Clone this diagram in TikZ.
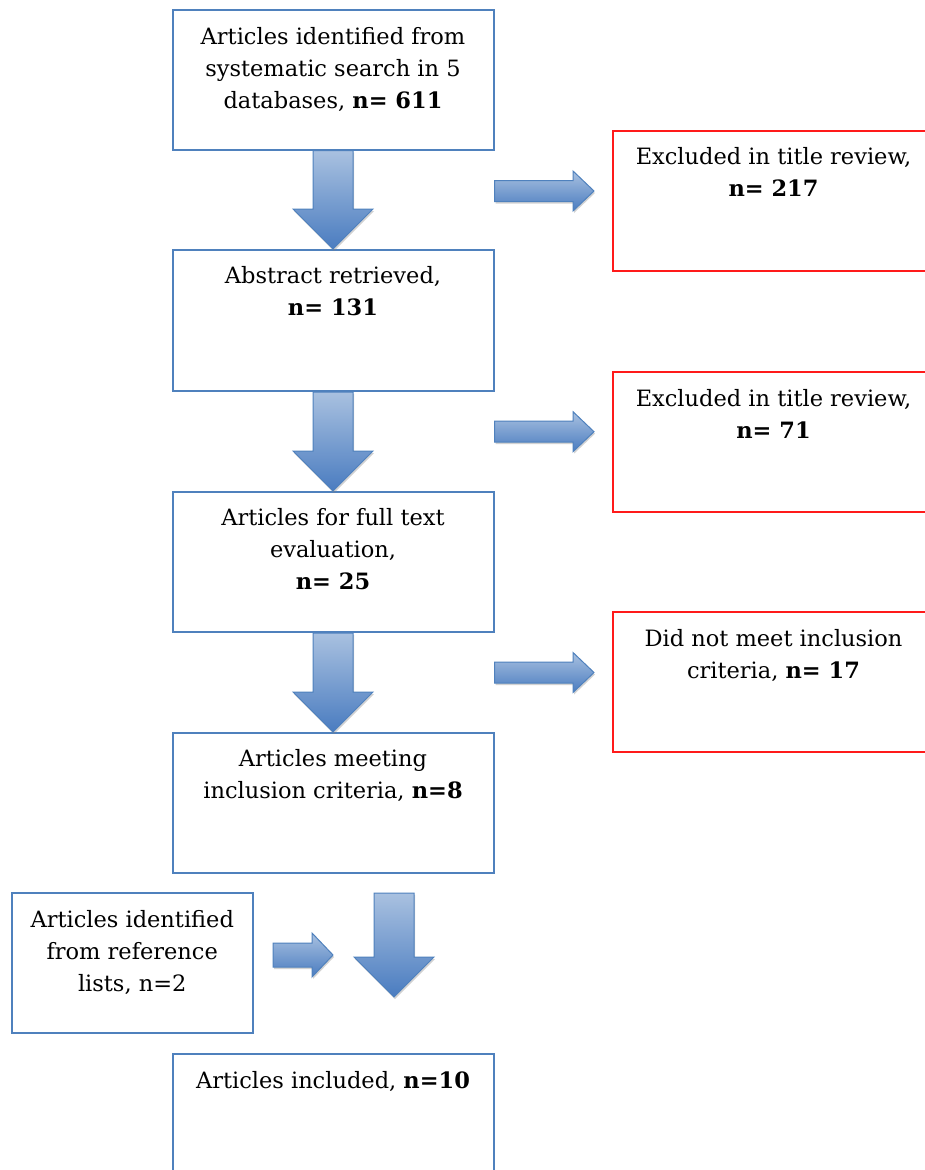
\documentclass[tikz,border=0pt]{standalone}
\usepackage{fontspec}
\setmainfont{DejaVu Serif}
\usetikzlibrary{calc,shadows}
\definecolor{boxblue}{HTML}{4F81BD}
\definecolor{arrlight}{HTML}{A9C1E0}
\definecolor{arrdark}{HTML}{4A7CC0}
\definecolor{exred}{HTML}{FF1A1A}
\newcommand{\dnarr}[2]{%
  \path[blockarrow] let \p1=(#1), \p2=(#2) in
    (\x1-20pt,\y1) -- (\x1+20pt,\y1) -- (\x1+20pt,\y2+40pt) -- (\x1+40pt,\y2+40pt)
    -- (\x1,\y2) -- (\x1-40pt,\y2+40pt) -- (\x1-20pt,\y2+40pt) -- cycle;}
\newcommand{\rtarr}[4]{%
  \path[blockarrow] let \p1=(#1), \p2=(#2) in
    (\x1,\y1+#3) -- (\x2-21pt,\y1+#3) -- (\x2-21pt,\y1+#4) -- (\x2,\y1)
    -- (\x2-21pt,\y1-#4) -- (\x2-21pt,\y1-#3) -- (\x1,\y1-#3) -- cycle;}
\tikzset{
  bluebox/.style={draw=boxblue, line width=2pt, fill=white, minimum width=321pt, inner sep=0pt},
  redbox/.style={draw=exred, line width=2pt, fill=white, minimum width=321pt, minimum height=140pt, inner sep=0pt},
  boxtext/.style={anchor=north, align=center, inner sep=0pt, font=\fontsize{22.5}{32}\selectfont},
  blockarrow/.style={draw=boxblue, line width=1pt, top color=arrlight, bottom color=arrdark,
    drop shadow={shadow xshift=1pt, shadow yshift=-2pt, opacity=0.35, fill=gray}},
}
\begin{document}
\begin{tikzpicture}[x=1pt,y=-1pt]
\useasboundingbox (0,0) rectangle (925,1170);
\fill[white] (0,0) rectangle (925,1170);
\clip (0,0) rectangle (925,1170);
% main boxes
\node[bluebox, minimum height=139.5pt] (b1) at (333,79.75) {};
\node[bluebox, minimum height=141pt] (b2) at (333,320.5) {};
\node[bluebox, minimum height=140pt] (b3) at (333,562) {};
\node[bluebox, minimum height=140pt] (b4) at (333,803) {};
\node[bluebox, minimum height=140pt] (b5) at (333,1124) {};
\node[bluebox, minimum width=240.5pt, minimum height=140pt] (bl) at (132.25,963) {};
% exclusion boxes
\node[redbox] (r1) at (773.5,200.5) {};
\node[redbox] (r2) at (773.5,441.7) {};
\node[redbox] (r3) at (773.5,682.3) {};
% texts
\node[boxtext] (t1) at ($(b1.north)+(0,18)$) {Articles identified from\\systematic search in 5\\databases, \textbf{n= 611}};
\node[boxtext] (t2) at ($(b2.north)+(0,17.5)$) {Abstract retrieved,\\\textbf{n= 131}};
\node[boxtext] (t3) at ($(b3.north)+(0,17.5)$) {Articles for full text\\evaluation,\\\textbf{n= 25}};
\node[boxtext] (t4) at ($(b4.north)+(0,17.5)$) {Articles meeting\\inclusion criteria, \textbf{n=8}};
\node[boxtext] (t5) at ($(b5.north)+(0,18)$) {Articles included, \textbf{n=10}};
\node[boxtext] (tl) at ($(bl.north)+(0,18)$) {Articles identified\\from reference\\lists, n=2};
\node[boxtext] (tr1) at ($(r1.north)+(0,18)$) {Excluded in title review,\\\textbf{n= 217}};
\node[boxtext] (tr2) at ($(r2.north)+(0,18)$) {Excluded in title review,\\\textbf{n= 71}};
\node[boxtext] (tr3) at ($(r3.north)+(0,18)$) {Did not meet inclusion\\criteria, \textbf{n= 17}};
% down arrows
\dnarr{b1.south}{b2.north}
\dnarr{b2.south}{b3.north}
\dnarr{b3.south}{b4.north}
\coordinate (a4top) at (394,893);
\coordinate (a4tip) at (394,997);
\dnarr{a4top}{a4tip}
% right arrows
\coordinate (s1) at (b1.east |- 0,191);
\coordinate (e1) at (594,191);
\coordinate (s2) at (b2.east |- 0,431.7);
\coordinate (e2) at (594,431.7);
\coordinate (s3) at (b3.east |- 0,672.5);
\coordinate (e3) at (594,672.5);
\rtarr{s1}{e1}{10.5pt}{20pt}
\rtarr{s2}{e2}{10.5pt}{20pt}
\rtarr{s3}{e3}{10.5pt}{20pt}
\coordinate (sl) at (273,955);
\coordinate (el) at (333,955);
\rtarr{sl}{el}{12pt}{22pt}
\end{tikzpicture}
\end{document}
